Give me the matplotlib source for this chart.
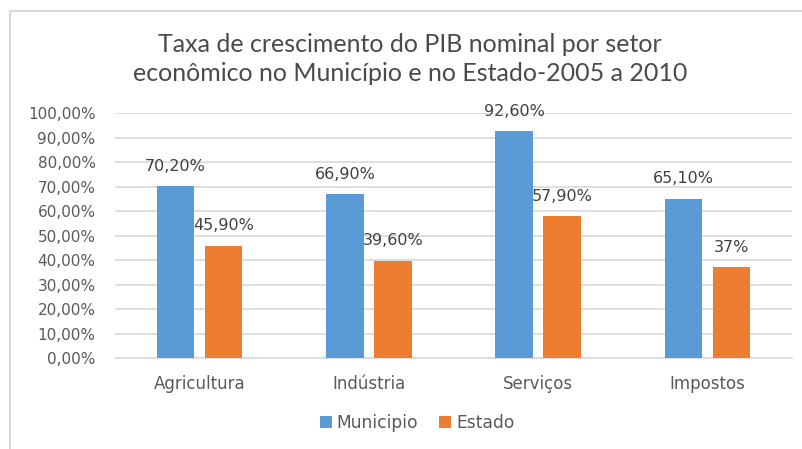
import numpy as np
import matplotlib.pyplot as plt
from matplotlib.patches import Rectangle
from matplotlib.ticker import FuncFormatter

plt.rcParams["font.family"] = "DejaVu Sans"

# Data
categories = ["Agricultura", "Indústria", "Serviços", "Impostos"]
municipio = [70.2, 66.9, 92.6, 65.1]
estado = [45.9, 39.6, 57.9, 37.0]
municipio_labels = ["70,20%", "66,90%", "92,60%", "65,10%"]
estado_labels = ["45,90%", "39,60%", "57,90%", "37%"]

blue = "#5B9BD5"
orange = "#ED7D31"
text_gray = "#595959"

fig = plt.figure(figsize=(8.03, 4.49), dpi=100)
fig.patch.set_facecolor("white")

# light border of the chart area
fig.add_artist(Rectangle((10 / 803, -0.1), 1.1, 1 - 11 / 449 + 0.1, transform=fig.transFigure,
                         fill=False, edgecolor="#D9D9D9", linewidth=1.5))

ax = fig.add_axes([115 / 803, 1 - 358 / 449, (792 - 115) / 803, (358 - 113) / 449])

x = np.arange(len(categories))
off = 0.142
w = 0.222
b1 = ax.bar(x - off, municipio, w, color=blue, label="Municipio", zorder=3)
b2 = ax.bar(x + off, estado, w, color=orange, label="Estado", zorder=3)

# data labels above bars
for rect, lab in zip(b1, municipio_labels):
    ax.annotate(lab, (rect.get_x() + rect.get_width() / 2, rect.get_height()),
                xytext=(0, 20), textcoords="offset pixels", ha="center", va="center",
                fontsize=11.5, color="#404040")
for rect, lab in zip(b2, estado_labels):
    ax.annotate(lab, (rect.get_x() + rect.get_width() / 2, rect.get_height()),
                xytext=(0, 20), textcoords="offset pixels", ha="center", va="center",
                fontsize=11.5, color="#404040")

ax.set_xlim(-0.5, 3.5)
ax.set_ylim(0, 100)
ax.set_yticks(np.arange(0, 101, 10))
ax.yaxis.set_major_formatter(FuncFormatter(lambda v, p: f"{v:.2f}%".replace(".", ",")))
ax.set_xticks(x)
ax.set_xticklabels(categories)
ax.tick_params(axis="both", length=0, colors=text_gray)
ax.tick_params(axis="y", pad=14, labelsize=11)
ax.tick_params(axis="x", pad=12, labelsize=12)

ax.grid(axis="y", color="#D9D9D9", linewidth=1.2, zorder=0)
for s in ["top", "right", "left"]:
    ax.spines[s].set_visible(False)
ax.spines["bottom"].set_color("#D9D9D9")
ax.spines["bottom"].set_linewidth(1.2)

fig.text(410 / 803, 1 - 59 / 449, "Taxa de crescimento do PIB nominal por setor\neconômico no Município e no Estado-2005 a 2010",
         ha="center", va="center", fontsize=18, family="Lato", color="#4a4a4a", linespacing=1.3)

fig.legend(handles=[b1, b2], loc="center", bbox_to_anchor=(417 / 803, 1 - 423 / 449), ncol=2,
           frameon=False, fontsize=12.3, labelcolor=text_gray, handlelength=0.7, handleheight=0.7,
           handletextpad=0.3, columnspacing=1.2)

fig.savefig("out.png", dpi=100)
